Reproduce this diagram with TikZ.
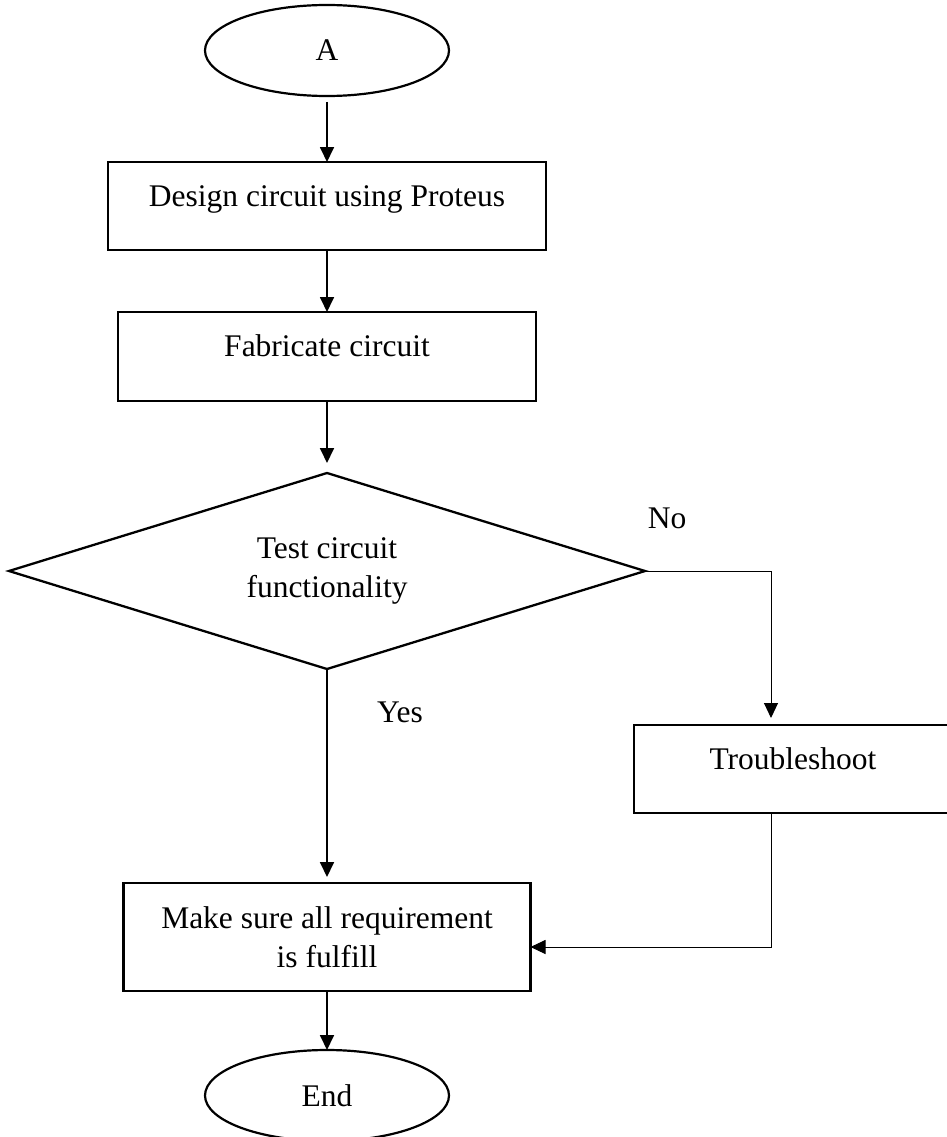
\documentclass[tikz,border=0pt]{standalone}
\usepackage{fontspec}
\setmainfont{Liberation Serif}
\usetikzlibrary{arrows.meta, positioning, shapes.geometric}
\tikzset{
    term/.style={ellipse, draw, line width=2.2pt, minimum width=244pt,
                 minimum height=91pt, inner sep=0pt, outer sep=0pt},
    procbox/.style={rectangle, draw, line width=2.3pt, inner sep=0pt,
                    outer sep=0pt},
    stepbox/.style={procbox, text height=22pt, text depth=22pt},
    decide/.style={diamond, draw, line width=2.3pt, inner sep=0pt, outer sep=0pt,
                   aspect=3.2, minimum width=636pt, minimum height=196pt,
                   align=center},
    flow/.style={-{Triangle[length=15pt, width=14pt]}, line width=1.8pt},
    thinflow/.style={flow, line width=1pt},
}

\begin{document}
\begin{tikzpicture}[x=1pt, y=-1pt, node distance=62pt,
                    font=\fontsize{31.5pt}{39pt}\selectfont]
    \useasboundingbox (0,0) rectangle (946,1137);
    \node[term] (a) at (327,50.5) {A};
    \node[stepbox, minimum width=438pt, minimum height=88pt, below=66pt of a] (design) {Design circuit using Proteus};
    \node[stepbox, minimum width=418pt, minimum height=89pt, below=of design] (fab) {Fabricate circuit};
    \node[decide, below=72pt of fab] (test) {Test circuit\\functionality};
    \node[procbox, minimum width=407pt, minimum height=108pt, align=center,
          below=214pt of test] (check) {Make sure all requirement\\is fulfill};
    \node[term, below=59pt of check] (finish) {End};
    \node[stepbox, minimum width=318pt, minimum height=88pt, anchor=north west] (fix) at (634,725) {Troubleshoot};
    \node (no) at (667,518) {No};
    \node (yes) at (400,712) {Yes};

    \draw[flow, shorten <=6pt] (a) -- (design);
    \draw[flow] (design) -- (fab);
    \draw[flow, shorten >=10pt] (fab) -- (test);
    \draw[flow, shorten >=6pt] (test) -- (check);
    \draw[flow] (check) -- (finish);
    \draw[thinflow, shorten >=7pt] (test.east) -| ([xshift=-22pt]fix.north);
    \draw[thinflow] ([xshift=-22pt]fix.south) |- ([yshift=-10pt]check.east);
\end{tikzpicture}
\end{document}
